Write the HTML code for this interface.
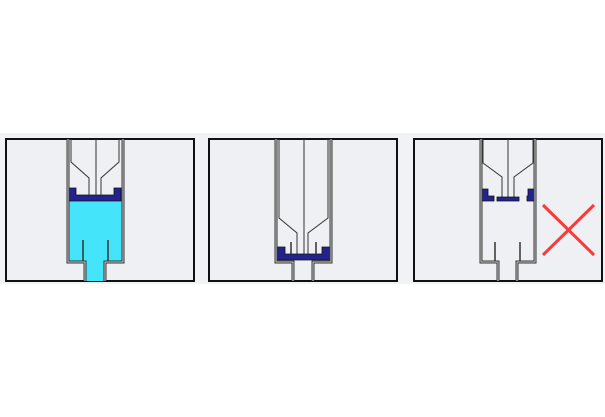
<!DOCTYPE html>
<html><head><style>html,body{margin:0;padding:0;background:#fff;}svg{display:block}</style></head>
<body>
<svg width="605" height="417" viewBox="0 0 605 417" xmlns="http://www.w3.org/2000/svg">
<rect x="0" y="133" width="605" height="151" fill="#f1f2f6"/>
<g fill="#eff0f4" stroke="#111" stroke-width="2">
<rect x="6" y="139" width="188" height="142"/>
<rect x="209" y="139" width="188" height="142"/>
<rect x="414" y="139" width="188" height="142"/>
</g>
<!-- Panel 1 -->
<path d="M69 201 H122 V261 H104 V281 H86 V261 H69 Z" fill="#44e4fb"/>
<path d="M69 188 H76 V195 H114 V188 H121 V201 H69 Z" fill="#23238f" stroke="#111" stroke-width="0.8"/>
<g fill="none" stroke="#333" stroke-width="1">
<path d="M71 139 V162 L89 178 V195"/><path d="M119 139 V162 L101 178 V195"/>
<path d="M96 139 V195"/>
<path d="M83 261 V240 M108 261 V240" stroke-width="1.5"/>
</g>
<g fill="none">
<path d="M68 139 V262 H85 V281 M123 139 V262 H105 V281" stroke="#333" stroke-width="3"/>
<path d="M68 139 V262 H85 V281 M123 139 V262 H105 V281" stroke="#ccc" stroke-width="1"/>
</g>
<!-- Panel 2 -->
<g fill="none" stroke="#333" stroke-width="1">
<path d="M279 139 V218 L297 233 V255"/><path d="M328 139 V218 L308 233 V255"/>
<path d="M304 139 V255"/>
</g>
<path d="M277 247 H285 V254 H322 V247 H330 V260 H277 Z" fill="#23238f" stroke="#111" stroke-width="0.8"/>
<path d="M291 254 V242 M316 254 V242" stroke="#333" stroke-width="1.5"/>
<g fill="none">
<path d="M276 139 V262 H293 V281 M331 139 V262 H313 V281" stroke="#333" stroke-width="3"/>
<path d="M276 139 V262 H293 V281 M331 139 V262 H313 V281" stroke="#ccc" stroke-width="1"/>
</g>
<!-- Panel 3 -->
<g fill="none" stroke="#333" stroke-width="1">
<path d="M483 139 V163 L502 177 V197"/><path d="M533 139 V163 L514 177 V197"/>
<path d="M508 139 V197"/>
<path d="M495 261 V242 M520 261 V242" stroke-width="1.5"/>
</g>
<path d="M482 189 H488 V196 H494 V201 H482 Z" fill="#23238f" stroke="#111" stroke-width="0.8"/>
<path d="M497 197 H519 V201 H497 Z" fill="#23238f" stroke="#111" stroke-width="0.8"/>
<path d="M527 196 H528 V189 H534 V201 H527 Z" fill="#23238f" stroke="#111" stroke-width="0.8"/>
<g fill="none">
<path d="M481 139 V262 H498 V281 M535 139 V262 H517 V281" stroke="#333" stroke-width="3"/>
<path d="M481 139 V262 H498 V281 M535 139 V262 H517 V281" stroke="#ccc" stroke-width="1"/>
</g>
<path d="M543 205 L594 255 M594 205 L543 255" stroke="#fa3a3a" stroke-width="3"/>
</svg>
</body></html>
